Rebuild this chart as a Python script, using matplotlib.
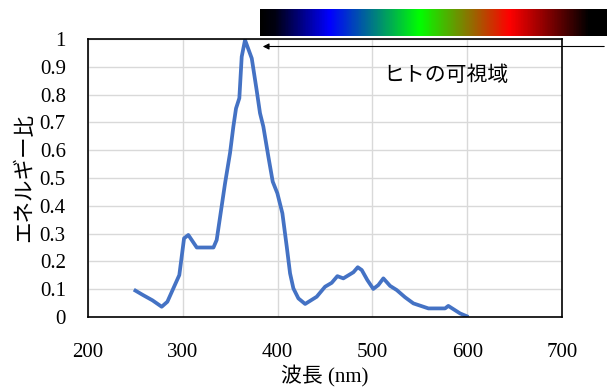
import numpy as np
import matplotlib
matplotlib.use("Agg")
import matplotlib.pyplot as plt
from matplotlib.colors import LinearSegmentedColormap

# spectrum
wavelength = [250, 258, 268, 277.7, 283.7, 290, 296.3, 301.3, 305.8, 314.7, 332.3, 335.7,
              344.5, 349.8, 353.3, 356.1, 359.6, 362.1, 365.6, 372.7, 377.8, 381.4, 384.9,
              390.2, 394.8, 399.7, 405, 409.6, 413.1, 416.6, 421.9, 429, 441.2, 450, 457,
              463, 469.3, 479.9, 484.5, 488.7, 494.6, 500.9, 506.2, 511.5, 518.6, 525.6,
              534.4, 543.2, 559, 576.6, 580, 592.4, 599.4]
energy = [0.095, 0.079, 0.06, 0.037, 0.055, 0.103, 0.151, 0.283, 0.295, 0.25, 0.25, 0.277,
          0.48, 0.59, 0.685, 0.75, 0.787, 0.936, 0.996, 0.93, 0.817, 0.733, 0.685,
          0.577, 0.487, 0.445, 0.373, 0.253, 0.157, 0.103, 0.067, 0.047, 0.073, 0.109, 0.123,
          0.147, 0.139, 0.161, 0.179, 0.169, 0.133, 0.101, 0.115, 0.139, 0.112, 0.097,
          0.071, 0.049, 0.031, 0.031, 0.04, 0.013, 0.003]

xticks = [200, 300, 400, 500, 600, 700]
yticks = [0, 0.1, 0.2, 0.3, 0.4, 0.5, 0.6, 0.7, 0.8, 0.9, 1]
ytick_labels = ["0", "0.1", "0.2", "0.3", "0.4", "0.5", "0.6", "0.7", "0.8", "0.9", "1"]

serif = ["Liberation Serif", "Noto Sans CJK JP"]
gothic = ["Noto Sans CJK JP", "DejaVu Sans"]

fig = plt.figure(figsize=(6.07, 3.89), dpi=100)
ax = fig.add_axes([0.145, 0.185, 0.781, 0.715])

ax.plot(wavelength, energy, color="#4472C4", lw=2.7, solid_joinstyle="round")

ax.set_xlim(200, 700)
ax.set_ylim(0, 1)
ax.set_xticks(xticks)
ax.set_yticks(yticks)
ax.set_yticklabels(ytick_labels)
ax.tick_params(length=0, labelsize=15)
ax.tick_params(axis="x", pad=19)
ax.tick_params(axis="y", pad=16)
for lab in ax.get_xticklabels() + ax.get_yticklabels():
    lab.set_family(serif)
ax.grid(True, color="#d9d9d9", lw=1)
ax.set_axisbelow(True)
for s in ax.spines.values():
    s.set_color("black")
    s.set_linewidth(1.2)

ax.set_xlabel("波長 (nm)", family=serif, fontsize=15, labelpad=2)
ax.set_ylabel("エネルギー比", family=gothic, fontsize=15.5, labelpad=3)

ax.text(578, 0.87, "ヒトの可視域", family=gothic, fontsize=15, ha="center", va="center")

# colour strip of the visible range
cmap = LinearSegmentedColormap.from_list(
    "vis", [(0, "black"), (0.04, "#000010"), (0.2, "#0000ff"), (0.46, "#00ff00"),
            (0.72, "#ff0000"), (0.95, "black"), (1, "black")])
cax = fig.add_axes([260 / 607, 1 - 36 / 389, 1 - 260 / 607, 27 / 389])
cax.imshow(np.linspace(0, 1, 400)[None, :], aspect="auto", cmap=cmap)
cax.set_axis_off()

fig.add_artist(matplotlib.patches.FancyArrowPatch(
    (1.0, 1 - 46.5 / 389), (260 / 607, 1 - 46.5 / 389), transform=fig.transFigure,
    arrowstyle="-|>", mutation_scale=9, color="black", lw=0.8))

fig.savefig("out.png", dpi=100)
